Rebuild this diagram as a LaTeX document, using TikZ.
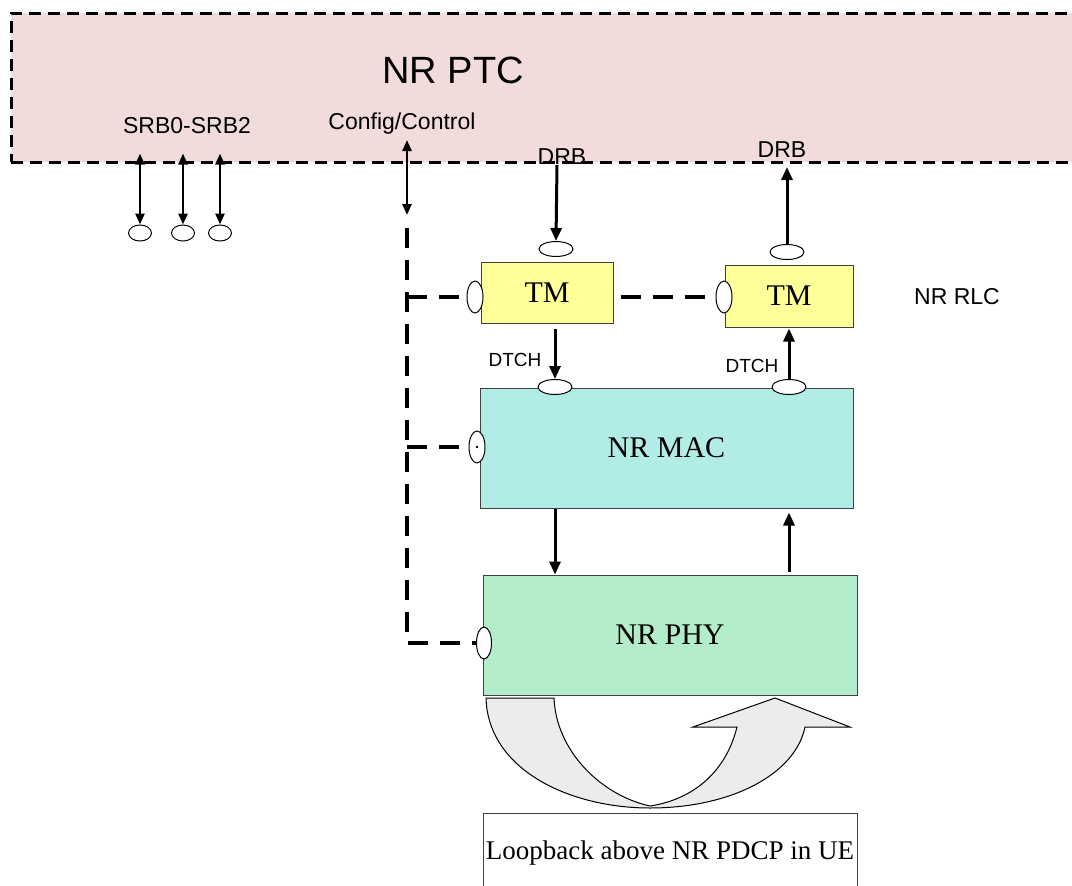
\documentclass[tikz,border=0pt]{standalone}
\usepackage{fontspec}
\setmainfont{Liberation Serif}
\setsansfont{Liberation Sans}
\usetikzlibrary{shapes.geometric,arrows.meta}

\definecolor{ptcpink}{RGB}{242,220,219}
\definecolor{tmyellow}{RGB}{255,255,153}
\definecolor{macblue}{RGB}{178,236,230}
\definecolor{phygreen}{RGB}{179,236,201}
\definecolor{loopgray}{RGB}{236,236,236}

\tikzset{
  ptcbox/.style={draw, fill=ptcpink, line width=3pt, dash pattern=on 12pt off 7pt,
    minimum width=1090pt, minimum height=149pt, inner sep=0pt},
  layer/.style={draw=black!75, line width=1pt, inner sep=0pt, font=\fontsize{30}{34}\selectfont},
  port/.style={ellipse, draw, fill=white, line width=1pt, inner sep=0pt},
  hport/.style={port, minimum width=34pt, minimum height=15pt},
  vport/.style={port, minimum width=16pt, minimum height=32pt},
  sport/.style={port, minimum width=23pt, minimum height=16pt},
  sig/.style={line width=3pt, -{Triangle[length=13pt,width=11pt]}},
  bisig/.style={line width=2.8pt, {Triangle[length=11pt,width=9pt]}-{Triangle[length=11pt,width=9pt]}},
  ctrl/.style={line width=3.5pt, dash pattern=on 20pt off 12pt},
  lbl/.style={font=\sffamily\fontsize{23}{27}\selectfont, inner sep=0pt},
  chlbl/.style={font=\sffamily\fontsize{19}{22}\selectfont, inner sep=0pt},
}

\begin{document}
\begin{tikzpicture}[x=1pt,y=1pt,yscale=-1,xscale=1]
\useasboundingbox (0,0) rectangle (1072,886);
\clip (0,0) rectangle (1072,886);

% NR PTC
\node[ptcbox] (ptc) at (556,87.5) {};
\node[font=\sffamily\fontsize{38}{42}\selectfont, inner sep=0pt] (ptcname) at (453,70) {NR PTC};
\node[lbl] (srbname) at (187,126) {SRB0-SRB2};
\node[lbl] (cfgname) at (402,124) {Config/Control};

% layers
\node[layer, fill=tmyellow, minimum width=132pt, minimum height=61pt] (tm1) at (547,292.5) {TM};
\node[layer, fill=tmyellow, minimum width=128pt, minimum height=62pt] (tm2) at (789,296) {TM};
\node[layer, fill=macblue, minimum width=373pt, minimum height=120pt] (mac) at (666.5,448) {NR MAC};
\node[layer, fill=phygreen, minimum width=374pt, minimum height=120pt] (phy) at (670,635) {NR PHY};
\node[layer, fill=white, font=\fontsize{27}{30}\selectfont, minimum width=374pt, minimum height=80pt] (loop) at (670,853) {Loopback above NR PDCP in UE};
\node[lbl] (rlcname) at (957,297) {NR RLC};

% ports
\node[hport] (drbinport) at (556,249) {};
\node[hport] (drboutport) at (787,252) {};
\node[vport] (tm1port) at (475,297) {};
\node[vport] (tm2port) at (724,297) {};
\node[hport] (dtchinport) at (555,387) {};
\node[hport] (dtchoutport) at (789,387) {};
\node[vport] (macport) at (477,447) {};
\fill (macport) circle (1.3);
\node[vport, minimum width=15pt] (phyport) at (484,643) {};

% SRBs
\foreach \n/\x in {1/140,2/183,3/220} {
  \node[sport] (srb\n) at (\x,233) {};
  \draw[bisig] ([yshift=-10pt]ptc.south -| srb\n) -- (srb\n.north);
}

% config / control
\coordinate (cfgtop) at (407,140);
\coordinate (cfgbot) at (407,215);
\coordinate (cfgline) at (407,228);
\draw[bisig] (cfgtop) -- (cfgbot);
\draw[ctrl] (cfgline) |- (phyport.west);
\draw[ctrl] (cfgline |- tm1port) -- (tm1port.west);
\draw[ctrl] (cfgline |- macport) -- (macport.west);
\draw[ctrl, shorten <=7pt] (tm1.east |- tm2port) -- (tm2port.west);

% DRB / DTCH
\coordinate (drbin) at (557,165);
\coordinate (drbout) at (787,167);
\draw[sig] (drbin) -- (drbinport.north);
\draw[sig] (drboutport.north) -- (drbout);
\node[lbl] (drbinname) at (562,157) {DRB};
\node[lbl] (drboutname) at (782,150) {DRB};
\draw[sig, shorten <=5pt] (tm1.south -| dtchinport) -- (dtchinport.north);
\draw[sig, shorten >=1pt] (dtchoutport.north) -- (tm2.south -| dtchoutport);
\node[chlbl] (dtchin) at (515,360) {DTCH};
\node[chlbl] (dtchout) at (752,366) {DTCH};

% MAC <-> PHY
\draw[sig] (mac.south -| dtchinport) -- (phy.north -| dtchinport);
\draw[sig, shorten <=3pt, shorten >=4pt] (phy.north -| dtchoutport) -- (mac.south -| dtchoutport);

% loopback arrow
\draw[fill=loopgray, line width=1pt] (486,698) .. controls (488,770) and (570,808) .. (650,808)
  .. controls (730,808) and (795,775) .. (805,727) -- (850,727) -- (775,698) -- (693,727) -- (737,727)
  .. controls (725,775) and (690,800) .. (650,806)
  .. controls (600,795) and (556,750) .. (554,698) -- cycle;

\end{tikzpicture}
\end{document}
